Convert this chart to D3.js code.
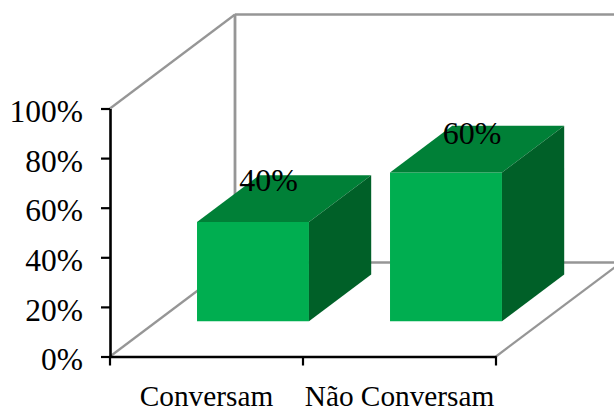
<!DOCTYPE html>
<html>
<head>
<meta charset="utf-8">
<script src="https://cdn.jsdelivr.net/npm/d3@7"></script>
<style>
  html, body { margin: 0; padding: 0; background: #fff; }
  svg { display: block; }
  text { font-family: "Liberation Serif", serif; fill: #000; }
</style>
</head>
<body>
<svg id="chart" width="614" height="410"></svg>
<script>
const categories = ["Conversam", "Não Conversam"];
const shares = [40, 60];
const yTicks = [0, 20, 40, 60, 80, 100];

const svg = d3.select("#chart");

const x = d3.scaleBand().domain(categories).range([110, 496]);
const y = d3.scaleLinear().domain([0, 100]).range([356.5, 108.5]);

// Oblique projection: depth 0 is the front of the box, depth 1 the back wall.
const depthX = d3.scaleLinear().domain([0, 1]).range([0, 125]);
const depthY = d3.scaleLinear().domain([0, 1]).range([0, -94]);
const project = (px, value, depth) => [px + depthX(depth), y(value) + depthY(depth)];
const poly = pts => pts.map(p => p.join(",")).join(" ");

const barInset = 0.208, barSpan = 0.58;
const depthFront = 0.375, depthBack = 0.873;

// Walls and floor
const wallColor = "#969696";
const x0 = x.range()[0], x1 = x.range()[1];
const walls = svg.append("g").attr("fill", "none").attr("stroke", wallColor);
const wallLine = d3.line();
[
  [[project(x0, 100, 0), project(x0, 100, 1)], 2.2],
  [[project(x0, 0, 0), project(x0, 0, 1)], 2.2],
  [[project(x0, 0, 1), project(x0, 100, 1)], 2.8],
  [[project(x0, 100, 1), project(x1, 100, 1)], 2.4],
  [[project(x0, 0, 1), project(x1, 0, 1)], 2.4],
  [[project(x1, 0, 0), project(x1, 0, 1)], 2.2]
].forEach(([pts, w]) => walls.append("path").attr("d", wallLine(pts)).attr("stroke-width", w));

// Bars: front, top and side faces
const bars = svg.selectAll("g.bar")
  .data(categories.map((c, i) => ({ c, v: shares[i] })))
  .join("g").attr("class", "bar");

const left = d => x(d.c) + x.bandwidth() * barInset;
const right = d => left(d) + x.bandwidth() * barSpan;

bars.append("polygon").attr("fill", "#00AE50")
  .attr("points", d => poly([
    project(left(d), 0, depthFront), project(right(d), 0, depthFront),
    project(right(d), d.v, depthFront), project(left(d), d.v, depthFront)
  ]));
bars.append("polygon").attr("fill", "#008037")
  .attr("points", d => poly([
    project(left(d), d.v, depthFront), project(right(d), d.v, depthFront),
    project(right(d), d.v, depthBack), project(left(d), d.v, depthBack)
  ]));
bars.append("polygon").attr("fill", "#006028")
  .attr("points", d => poly([
    project(right(d), 0, depthFront), project(right(d), 0, depthBack),
    project(right(d), d.v, depthBack), project(right(d), d.v, depthFront)
  ]));

// Value labels sit on the top face, drifting right and down as the bar grows
const labelDx = d3.scaleLinear().domain([40, 60]).range([15.5, 26]);
const labelDy = d3.scaleLinear().domain([40, 60]).range([-66, -63.5]);
bars.append("text")
  .attr("text-anchor", "middle")
  .attr("font-size", 32)
  .attr("x", d => project((left(d) + right(d)) / 2, d.v, depthFront)[0] + labelDx(d.v))
  .attr("y", d => y(d.v) + labelDy(d.v))
  .text(d => d.v + "%");

// Axes
const yAxis = svg.append("g")
  .attr("transform", `translate(${x0},0)`)
  .call(d3.axisLeft(y).tickValues(yTicks).tickFormat(d => d + "%").tickSize(9).tickSizeOuter(0).tickPadding(18));
const xAxis = svg.append("g")
  .attr("transform", `translate(0,${y(0)})`)
  .call(d3.axisBottom(x).tickSize(0).tickPadding(29));

// Category boundaries carry the x ticks
xAxis.selectAll("line.bound")
  .data([x0, x(categories[1]), x1])
  .join("line").attr("class", "bound")
  .attr("x1", d => d).attr("x2", d => d)
  .attr("y1", 0).attr("y2", 9)
  .attr("stroke", "#000").attr("stroke-width", 2.2);

[yAxis, xAxis].forEach(g => {
  g.selectAll(".domain").attr("stroke", "#000").attr("stroke-width", 2.6);
  g.selectAll(".tick line").attr("stroke", "#000").attr("stroke-width", 2.2);
  g.selectAll("text").attr("font-family", '"Liberation Serif", serif').attr("fill", "#000");
});
yAxis.selectAll("text").attr("font-size", 31.5).attr("dy", "0.42em");
xAxis.selectAll("text").attr("font-size", 29.3);
</script>
</body>
</html>
